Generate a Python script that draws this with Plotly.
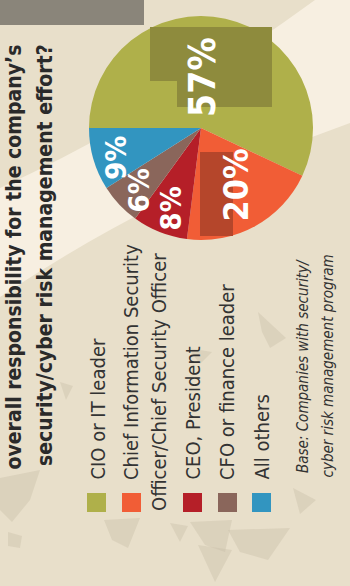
import math
import plotly.graph_objects as go

# ---------------- data ----------------
categories = ["CIO or IT leader",
              "Chief Information Security Officer/Chief Security Officer",
              "CEO, President",
              "CFO or finance leader",
              "All others"]
values = [57, 20, 8, 6, 9]
value_labels = ["57%", "20%", "8%", "6%", "9%"]
legend_lines = [["CIO or IT leader"],
                ["Chief Information Security", "Officer/Chief Security Officer"],
                ["CEO, President"],
                ["CFO or finance leader"],
                ["All others"]]
title_lines = ["overall responsibility for the company’s",
               "security/cyber risk management effort?"]
base_lines = ["Base: Companies with security/",
              "cyber risk management program"]

# ---------------- styles ----------------
colors = ["#afb04a", "#f15d36", "#b51f28", "#8a665b", "#3295c0"]
W, H = 350, 586
BG = "#e8dfca"
CREAM = "#f7efe1"
NARROW = "Liberation Sans Narrow, DejaVu Sans Condensed, Arial Narrow, sans-serif"

def px(x):
    return x / W

def py(y):
    return 1 - y / H

# pie geometry (pixels)
CX, CY, R = 201, 128, 112
label_r = [0.46, 0.60, 0.77, 0.79, 0.80]
label_off = [-11, -3, -1, -2, -3]
label_size = [37, 34, 29, 29, 29]

fig = go.Figure()
fig.add_trace(go.Pie(
    labels=categories, values=values, sort=False, direction="clockwise",
    rotation=-90, marker=dict(colors=colors, line=dict(width=0)),
    textinfo="none", hoverinfo="label+percent", showlegend=False,
    domain=dict(x=[px(CX - R), px(CX + R)], y=[py(CY + R), py(CY - R)]),
))

shapes = []
# background cream swoosh
swoosh = (f"M {px(0)},{py(188)} Q {px(150)},{py(120)} {px(315)},{py(0)} "
          f"L {px(350)},{py(0)} L {px(350)},{py(123)} "
          f"Q {px(160)},{py(190)} {px(0)},{py(297)} Z")
shapes.append(dict(type="path", path=swoosh, xref="paper", yref="paper",
                   fillcolor=CREAM, line=dict(width=0), layer="below"))
# grey header block
shapes.append(dict(type="rect", xref="paper", yref="paper",
                   x0=px(0), x1=px(144), y0=py(25), y1=py(0),
                   fillcolor="#8a857a", line=dict(width=0), layer="below"))
# faint decorative blobs
blob_col = "rgba(200,190,168,0.4)"
blobs = [
    [(0, 478), (40, 470), (30, 500), (12, 522), (0, 510)],
    [(8, 532), (22, 536), (20, 548), (8, 546)],
    [(104, 520), (140, 518), (128, 548), (112, 540)],
    [(170, 523), (188, 526), (180, 542)],
    [(190, 522), (232, 520), (225, 552), (205, 545)],
    [(228, 530), (290, 528), (268, 560), (240, 552)],
    [(198, 545), (232, 550), (215, 582)],
    [(293, 488), (316, 500), (300, 514)],
    [(258, 312), (286, 338), (270, 348), (262, 332)],
    [(188, 348), (212, 352), (200, 364)],
    [(60, 382), (73, 386), (66, 400)],
]
for b in blobs:
    p = "M " + " L ".join(f"{px(x)},{py(y)}" for x, y in b) + " Z"
    shapes.append(dict(type="path", path=p, xref="paper", yref="paper",
                       fillcolor=blob_col, line=dict(width=0), layer="below"))
# darker label boxes on the pie
gbox = (f"M {px(150)},{py(27)} L {px(272)},{py(27)} L {px(272)},{py(107)} "
        f"L {px(177)},{py(107)} L {px(177)},{py(81)} L {px(150)},{py(81)} Z")
shapes.append(dict(type="path", path=gbox, xref="paper", yref="paper",
                   fillcolor="#8e8b3d", line=dict(width=0), layer="above"))
shapes.append(dict(type="rect", xref="paper", yref="paper",
                   x0=px(200), x1=px(233), y0=py(236), y1=py(152),
                   fillcolor="#b5462b", line=dict(width=0), layer="above"))

annotations = []
# percentage labels placed from slice mid-angles
total = sum(values)
cum = 0
for i, v in enumerate(values):
    mid = -90 + 360 * (cum + v / 2) / total + label_off[i]
    cum += v
    a = math.radians(mid)
    lx = CX + label_r[i] * R * math.sin(a)
    ly = CY - label_r[i] * R * math.cos(a)
    annotations.append(dict(
        x=px(lx), y=py(ly), xref="paper", yref="paper", showarrow=False,
        text=value_labels[i], textangle=-90, xanchor="center", yanchor="middle",
        font=dict(family=NARROW, size=label_size[i], color="white", weight="bold")))

# title (rotated)
title_x = [13, 45]
title_y0 = [472, 468]
for t, x, y0 in zip(title_lines, title_x, title_y0):
    annotations.append(dict(
        x=px(x), y=py(y0), xref="paper", yref="paper", showarrow=False,
        text=t, textangle=-90, xanchor="center", yanchor="bottom",
        font=dict(family=NARROW, size=21, color="#2a2a2a", weight="bold")))

# legend (rotated)
sq_x = [87, 122, 183, 218, 252]
line_x = [[97], [131, 159], [192], [227], [261]]
line_y0 = [[482], [482, 513], [482], [482], [482]]
for i in range(len(categories)):
    shapes.append(dict(type="rect", xref="paper", yref="paper",
                       x0=px(sq_x[i]), x1=px(sq_x[i] + 19), y0=py(512), y1=py(493),
                       fillcolor=colors[i], line=dict(width=0)))
    for t, x, y0 in zip(legend_lines[i], line_x[i], line_y0[i]):
        annotations.append(dict(
            x=px(x), y=py(y0), xref="paper", yref="paper", showarrow=False,
            text=t, textangle=-90, xanchor="center", yanchor="bottom",
            font=dict(family=NARROW, size=20, color="#333333")))

# base note
for t, x, y0 in zip(base_lines, [303, 327], [475, 480]):
    annotations.append(dict(
        x=px(x), y=py(y0), xref="paper", yref="paper", showarrow=False,
        text=f"<i>{t}</i>", textangle=-90, xanchor="center", yanchor="bottom",
        font=dict(family=NARROW, size=15, color="#333333")))

fig.update_layout(
    width=W, height=H, margin=dict(l=0, r=0, t=0, b=0),
    paper_bgcolor=BG, plot_bgcolor=BG,
    shapes=shapes, annotations=annotations,
)
fig.write_html("out.html")
